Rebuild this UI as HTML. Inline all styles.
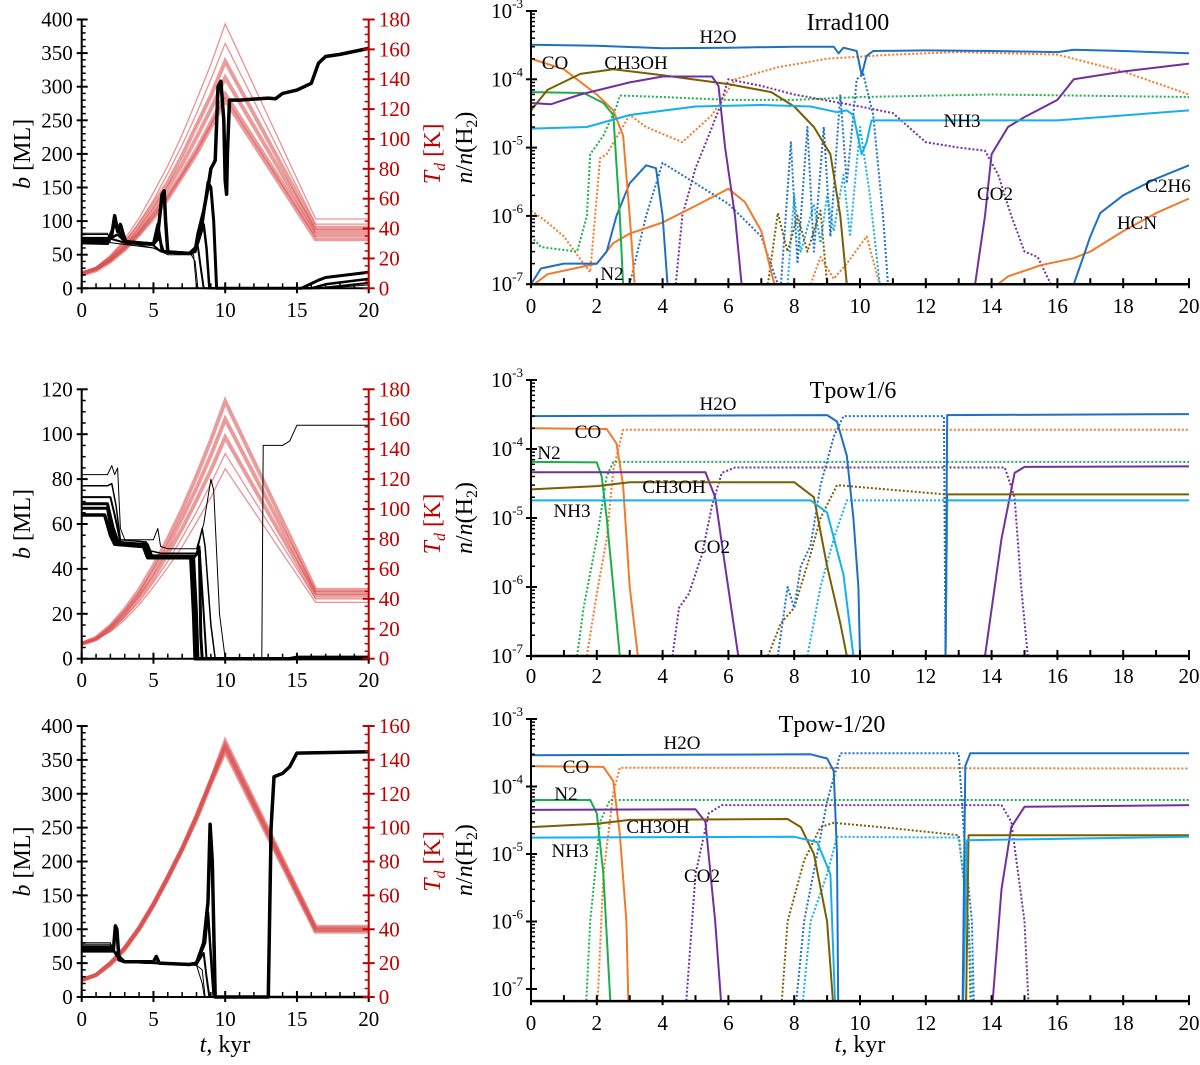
<!DOCTYPE html>
<html><head><meta charset="utf-8">
<style>
html,body{margin:0;padding:0;background:#fff;}
svg{display:block;font-family:"Liberation Serif",serif;}
</style></head>
<body>
<svg id="fig" width="1200" height="1065" viewBox="0 0 1200 1065" xmlns="http://www.w3.org/2000/svg"></svg>
<script>
// ===================== DATA =====================
const tempT = [0,1,2,3,4,5,6,7,8,9,10,16.3,20];
const tempTop = [
 [10,14,22,33,47,64,82,103,126,150,177,46.4,46.4],
 [10,14,21,31,44,59,77,96,117,140,164,43,43],
 [10,13,20,30,42,56,71,89,109,129,152,40.6,40.6],
 [10,13,19,28,39,52,67,83,101,120,141,38.4,38.4],
 [10,13,19,27,37,49,62,77,93,111,130,35.7,35.7],
 [9,12,18,26,36,47,60,75,90,108,126,32.8,32.8]];
const tempMid = [
 [10,14,22,33,46,62,80,100,122,146,172,46,46],
 [10,13,21,31,43,58,75,94,114,136,160,44,44],
 [10,13,20,29,41,54,70,87,106,126,148,42,42],
 [10,13,19,28,38,51,65,81,98,117,137,40,40],
 [10,13,18,26,36,48,61,75,91,108,127,37.6,37.6]];
const tempBot = [
 [10,13,20,29,41,55,71,88,107,128,151,41.5,41.5],
 [10,13,20,29,41,55,71,88,107,128,149,40.5,40.5],
 [10,13,20,29,40,54,70,87,106,127,147,39.5,39.5],
 [10,13,19,28,40,54,70,87,105,126,145,38.5,38.5]];
const bTop1 = [[0,68],[1.8,67],[2.1,80],[2.3,108],[2.5,85],[2.7,95],[2.9,80],[3.1,68],[4,67],[5,66],[5.3,80],[5.6,140],[5.75,145],[5.85,100],[6,54],[7.5,52],[7.9,55],[8.1,80],[8.5,115],[8.8,150],[9,178],[9.3,190],[9.5,300],[9.7,308],[9.9,250],[10,160],[10.1,140],[10.15,200],[10.3,280],[11,280],[13,283],[13.5,282],[14,290],[15,295],[16,305],[16.5,335],[17,345],[18,348],[20,357]];
const bTop2 = [[0,70],[1.8,70],[2.3,95],[3,70],[5,66],[5.3,95],[5.6,55],[7.5,52],[8,62],[8.4,95],[8.8,158],[9,150],[9.2,100],[9.4,0],[15.3,0],[16.5,12],[17,16],[20,24]];
const bTop3 = [[0,72],[1.8,72],[2.5,80],[3,70],[5,65],[5.4,75],[5.7,55],[7.5,52],[8,60],[8.5,95],[8.7,60],[8.9,0],[16,0],[17,6],[20,14]];
const bTop4 = [[0,75],[1.8,75],[3,68],[5,64],[5.5,55],[7.5,51],[8.1,62],[8.3,30],[8.5,0],[16.5,0],[20,8]];
const bTop5 = [[0,80],[1.8,80],[2.2,72],[5,60],[6,52],[7.6,51],[7.9,40],[8.1,0],[17,0],[20,5]];
const bTop6 = [[0,82],[1.8,82],[2,68],[5,60],[6,50],[7.8,50],[8,0],[20,0]];
const bMid1 = [[0,82],[1.8,82],[2.1,86],[2.3,82],[2.5,85],[2.7,58],[3,53],[5,53],[5.3,58],[5.5,50],[6,49],[8,49],[8.5,60],[9,80],[9.2,75],[9.6,20],[10,0],[12.55,0],[12.65,95],[14,95],[14.5,97],[15,104],[20,104]];
const bMid2 = [[0,77],[1.8,77],[2.1,78],[2.4,68],[2.7,53],[4.5,52],[4.8,48],[5.5,47],[8,47],[8.4,58],[8.6,50],[9,15],[9.3,0],[20,0]];
const bMid3 = [[0,72],[2,72],[2.3,64],[2.7,52],[4.6,51],[4.9,46],[8,46],[8.2,50],[8.5,20],[8.7,0],[20,0]];
const bMid4 = [[0,69],[1.8,69],[2.2,58],[2.6,51],[4.5,51],[4.8,45],[7.8,45],[8.2,48],[8.3,10],[8.4,0],[20,0]];
const bMid5 = [[0,67],[1.8,67],[2.1,56],[2.5,51],[4.5,51],[4.7,45],[7.8,45],[8,20],[8.1,0],[20,0]];
const bMid6 = [[0,64],[1.6,64],[2,55],[2.3,51],[4.3,50],[4.6,45],[7.6,45],[7.8,20],[7.9,0],[14.5,0],[15,0.6],[20,0.6]];
const bBot1 = [[0,68],[2.2,68],[2.35,105],[2.45,100],[2.6,55],[3,52],[5,52],[5.2,60],[5.4,50],[7.5,48],[8,50],[8.5,80],[8.8,140],[8.95,255],[9.1,200],[9.3,0],[13,0],[13.2,250],[13.4,325],[14,330],[14.5,340],[15,360],[20,362]];
const bBot2 = [[0,72],[2,72],[2.4,65],[3,52],[8,48],[8.6,80],[8.8,125],[9,60],[9.2,0],[20,0]];
const bBot3 = [[0,75],[2,75],[2.4,62],[3,52],[8,48],[8.5,65],[8.7,30],[8.9,0]];
const bBot4 = [[0,78],[2,78],[2.4,60],[3,51],[8,47],[8.4,40],[8.6,0]];
const bBot5 = [[0,80],[2,80],[2.4,60],[3,51],[8,47],[8.4,20],[8.55,0]];

const irrH2Os = [[0,3.2e-4],[2,3.1e-4],[4,2.85e-4],[6,2.9e-4],[8,3e-4],[9.2,3e-4],[9.35,2.4e-4],[9.5,2.9e-4],[9.9,2.6e-4],[10.05,1.15e-4],[10.2,2.2e-4],[10.4,2.6e-4],[12,2.65e-4],[14,2.6e-4],[16,2.5e-4],[16.5,2.7e-4],[18,2.6e-4],[20,2.4e-4]];
const irrBlueLow = [[0,1e-7],[0.3,1.7e-7],[1,2e-7],[2,2e-7],[2.3,3e-7],[2.6,1e-6],[3,3e-6],[3.5,5.5e-6],[3.8,5e-6],[4,1e-6],[4.15,1e-7]];
const irrC2H6 = [[16.5,1e-7],[17,5e-7],[17.3,1.1e-6],[18,2e-6],[19,3.5e-6],[20,5.5e-6]];
const irrHCN = [[14.2,1e-7],[14.5,1.3e-7],[15.5,1.9e-7],[16.5,2.4e-7],[17,3e-7],[18,6e-7],[19,1.1e-6],[20,1.8e-6]];
const irrOrangeLow = [[0.1,1e-7],[0.5,1.4e-7],[2,2e-7],[2.5,4e-7],[3,5.5e-7],[4,8e-7],[5,1.4e-6],[6,2.5e-6],[6.5,1.6e-6],[7,6e-7],[7.3,1.5e-7],[7.4,1e-7]];
const irrCOs = [[0,2e-4],[1,1.4e-4],[2,6e-5],[2.5,3.5e-5],[2.8,1.5e-5],[3,1e-6],[3.15,1e-7]];
const irrCOg = [[0,1.2e-6],[0.5,8e-7],[1,5e-7],[1.6,2e-7],[1.8,1.5e-7],[2.1,7e-6],[2.3,8e-6],[3,3e-5],[3.5,2e-5],[4.6,1.2e-5],[5.5,3e-5],[6.2,1e-4],[7.5,1.5e-4],[9,2e-4],[11,2.3e-4],[13,2.5e-4],[16,2.3e-4],[18,1.3e-4],[20,6e-5]];
const irrCOg2 = [[8.5,1e-7],[8.8,2.5e-7],[9.2,1.2e-7],[9.6,2e-7],[10.2,5e-7],[10.6,1e-7]];
const irrN2s = [[0,6.5e-5],[1.6,6.3e-5],[2.2,4.5e-5],[2.5,3e-5],[2.7,1e-6],[2.8,1e-7]];
const irrN2g = [[0,5e-7],[0.3,3.5e-7],[1.4,3e-7],[1.7,1e-6],[1.8,8e-6],[2.2,1.5e-5],[2.6,4e-5],[2.7,5.8e-5],[4,5.5e-5],[6,5e-5],[8,5e-5],[10,5.5e-5],[14,6e-5],[20,5.5e-5]];
const irrCH3OHs = [[0,3.5e-5],[0.5,7e-5],[1.5,1.2e-4],[2.5,1.4e-4],[4,1.15e-4],[6,8.5e-5],[7.3,6.5e-5],[8,4e-5],[8.6,2e-5],[9.1,8e-6],[9.4,1e-6],[9.6,1e-7]];
const irrCH3OHg = [[7.2,1e-7],[7.5,1.1e-6],[7.8,3e-7],[8.1,1e-6],[8.4,3e-7],[8.8,1.2e-6],[9,1e-7]];
const irrCO2s = [[0,4.5e-5],[0.6,4.3e-5],[1.5,6e-5],[3,9e-5],[4,1.1e-4],[5,1.1e-4],[5.5,1.1e-4],[5.7,8e-5],[5.9,1e-5],[6.2,1e-6],[6.4,1e-7]];
const irrCO2s2 = [[13.5,1e-7],[13.8,1e-6],[14,8e-6],[14.5,2e-5],[15,2.8e-5],[16,5e-5],[16.5,1e-4],[18,1.3e-4],[20,1.7e-4]];
const irrCO2g = [[4.4,1e-7],[4.6,1e-6],[5,5e-6],[5.4,1.5e-5],[5.7,3.5e-5],[6,1e-4],[7,8e-5],[8,6e-5],[10,4e-5],[11,3.2e-5],[12,1.2e-5],[13,1e-5],[13.8,9e-6],[14.2,4e-6],[14.6,1e-6],[15,3e-7],[15.4,2.5e-7],[15.8,1e-7]];
const irrNH3s = [[0,1.9e-5],[1.7,2e-5],[3,3e-5],[5,4e-5],[7,4.2e-5],[8.5,4e-5],[9.3,3.3e-5],[9.6,3.5e-5],[9.8,3e-5],[10.05,8e-6],[10.2,1.2e-5],[10.35,2.5e-5],[12,2.5e-5],[16,2.5e-5],[20,3.5e-5]];
const irrH2Og = [[3,1e-7],[3.5,1e-6],[4,6e-6],[5,3e-6],[6,1.5e-6],[7,5e-7],[7.5,1e-7],[7.6,1e-7],[7.9,1.2e-5],[8.1,2e-7],[8.4,2e-5],[8.6,3e-7],[8.9,2e-5],[9.1,5e-7],[9.4,6e-5],[9.6,3e-6],[9.9,1e-4],[10.1,1.2e-4],[10.4,3e-5],[10.7,1e-6],[10.85,1e-7]];
const irrNH3g = [[7.8,1e-7],[8,2e-6],[8.2,3e-7],[8.6,1.5e-6],[8.8,4e-7],[9,2e-6],[9.2,6e-7],[9.5,4e-6],[9.7,5e-7],[10,2e-5],[10.3,2e-6],[10.6,1e-7]];
const p6H2Os = [[0,3e-4],[9,3.1e-4],[9.3,2.5e-4],[9.6,8e-5],[9.8,1e-5],[9.95,1e-6],[10,1e-7],[12.6,1e-7],[12.65,3.1e-4],[20,3.2e-4]];
const p6H2Og = [[7.5,1e-7],[7.8,1e-6],[8,5e-7],[8.2,2e-6],[8.5,4e-6],[8.8,3e-5],[9.2,1.5e-4],[9.5,3e-4],[12.55,3e-4],[12.6,1e-7]];
const p6COs = [[0,2e-4],[2.3,1.95e-4],[2.6,1.2e-4],[2.8,3e-5],[3,1e-6],[3.25,1e-7]];
const p6COg = [[1.7,1e-7],[2,8e-7],[2.3,5e-6],[2.5,5e-5],[2.8,1.9e-4],[20,1.9e-4]];
const p6N2s = [[0,6.5e-5],[2,6.4e-5],[2.15,4e-5],[2.3,1e-5],[2.5,1e-6],[2.7,1e-7]];
const p6N2g = [[1.4,1e-7],[1.6,5e-7],[2,5e-6],[2.3,4e-5],[2.5,6.5e-5],[20,6.5e-5]];
const p6CO2s = [[0,4.6e-5],[5.3,4.6e-5],[5.6,2e-5],[5.9,2e-6],[6.3,1e-7],[13.8,1e-7],[14.3,5e-6],[14.7,4.5e-5],[15,5.5e-5],[20,5.6e-5]];
const p6CO2g = [[4.3,1e-7],[4.5,5e-7],[4.8,8e-7],[5.2,3e-6],[5.5,1.5e-5],[5.8,4.5e-5],[6.2,5.4e-5],[14.4,5.4e-5],[14.7,2e-5],[14.9,1e-6],[15.1,1e-7]];
const p6CH3OHs = [[0,2.6e-5],[2,2.9e-5],[3,3.3e-5],[4,3.3e-5],[8,3.3e-5],[8.6,2e-5],[9,2e-6],[9.4,3e-7],[9.6,1e-7],[12.6,1e-7],[12.65,2.2e-5],[20,2.2e-5]];
const p6CH3OHg = [[7.2,1e-7],[7.6,3e-7],[8,5e-7],[8.5,3e-6],[8.8,1e-5],[9.3,3e-5],[10,2.8e-5],[12.6,2.2e-5]];
const p6NH3s = [[0,1.8e-5],[8.5,1.8e-5],[9,1.2e-5],[9.5,1.5e-6],[9.8,1e-7],[12.6,1e-7],[12.65,1.8e-5],[20,1.8e-5]];
const p6NH3g = [[8.4,1e-7],[8.8,1e-6],[9.2,5e-6],[9.6,1.8e-5],[12.6,1.8e-5]];
const m20H2Os = [[0,2.9e-4],[8.5,3e-4],[9,2.6e-4],[9.2,1.7e-4],[9.3,1e-5],[9.35,1e-8],[13.1,1e-8],[13.2,2e-4],[13.35,3.1e-4],[20,3.1e-4]];
const m20H2Og = [[7.9,1e-8],[8.3,1e-6],[8.7,1e-5],[9,6e-5],[9.3,2e-4],[9.4,3.1e-4],[13,3.1e-4],[13.2,1e-5],[13.4,1e-6],[13.5,1e-8]];
const m20COs = [[0,2e-4],[2.2,1.95e-4],[2.5,1.2e-4],[2.7,2e-5],[2.9,1e-6],[3,1e-8]];
const m20COg = [[1.95,1e-8],[2.2,5e-6],[2.5,8e-5],[2.7,1.9e-4],[20,1.85e-4]];
const m20N2s = [[0,6.3e-5],[1.8,6.3e-5],[2,4e-5],[2.2,5e-6],[2.5,1e-8]];
const m20N2g = [[1.6,1e-8],[1.8,1e-6],[2.1,3e-5],[2.4,6.3e-5],[20,6.3e-5]];
const m20CO2s = [[0,4.5e-5],[5,4.6e-5],[5.3,3e-5],[5.6,1e-6],[5.9,1e-8],[13.9,1e-8],[14.3,3e-6],[14.6,2.5e-5],[15,5e-5],[20,5.3e-5]];
const m20CO2g = [[4.6,1e-8],[5,5e-6],[5.4,4e-5],[5.8,5.3e-5],[14.3,5.3e-5],[14.6,3e-5],[15,1e-6],[15.2,1e-8]];
const m20CH3OHs = [[0,2.5e-5],[2,2.8e-5],[3,3.2e-5],[7.8,3.3e-5],[8.2,2.5e-5],[8.6,1e-5],[9,1e-6],[9.3,1e-8],[13.2,1e-8],[13.3,1.9e-5],[20,1.9e-5]];
const m20CH3OHg = [[7.5,1e-8],[7.8,1e-6],[8.3,8e-6],[8.8,2.5e-5],[9.2,2.9e-5],[11,2.4e-5],[13,1.9e-5],[13.3,1e-6],[13.4,1e-8]];
const m20NH3s = [[0,1.75e-5],[8,1.8e-5],[8.7,1.5e-5],[9.1,5e-6],[9.3,1e-8],[13.1,1e-8],[13.25,1.6e-5],[20,1.8e-5]];
const m20NH3g = [[8.1,1e-8],[8.5,1e-6],[9,5e-6],[9.3,1.8e-5],[13,1.75e-5],[13.3,1e-6],[13.5,1e-8]];

// ===================== DRAWING =====================
const NS = "http://www.w3.org/2000/svg";
const svg = document.getElementById('fig');
function el(tag, attrs, parent){
  const e = document.createElementNS(NS, tag);
  for (const k in attrs) e.setAttribute(k, attrs[k]);
  (parent||svg).appendChild(e);
  return e;
}
const C = {H2O:'#1f6fc4', CO:'#f07a2a', N2:'#1aaf4b', CH3OH:'#7a5e00', CO2:'#7030a0', NH3:'#14b0ee'};
let clipId = 0;
function makeClip(x, y, w, h){
  const cp = el('clipPath', {id:'cp'+(++clipId)});
  el('rect', {x:x, y:y, width:w, height:h}, cp);
  return 'url(#cp'+clipId+')';
}

const leftPanels = [
 {x0:81.7, x1:368.7, yT:19.5, yB:288.3, bmax:400, bStep:50, bMinor:10, tmax:180, temps:tempTop,
  thickTemp:[false,false,true,true,true,true],
  bLines:[[bTop6,1],[bTop5,1],[bTop4,2],[bTop3,2.5],[bTop2,3],[bTop1,3.5]], xlabelsY:310, name:'irrad100'},
 {x0:81.7, x1:368.7, yT:389.3, yB:658.7, bmax:120, bStep:20, bMinor:5, tmax:180, temps:tempMid,
  thickTemp:[true,true,true,false,false],
  bLines:[[bMid1,1],[bMid2,1.5],[bMid3,2],[bMid4,3],[bMid5,3],[bMid6,3.5]], xlabelsY:680, name:'tpow16'},
 {x0:81.7, x1:368.7, yT:726, yB:997, bmax:400, bStep:50, bMinor:10, tmax:160, temps:tempBot,
  thickTemp:[true,true,true,true],
  bLines:[[bBot5,1],[bBot4,1],[bBot3,2],[bBot2,2.5],[bBot1,3.5]], xlabelsY:1019, name:'tpowm20'}
];

leftPanels.forEach((p, pi) => {
  const g = el('g', {});
  
  
  const X = t => p.x0 + (p.x1 - p.x0) * t / 20;
  const YB = b => p.yB - (p.yB - p.yT) * b / p.bmax;
  const YT = T => p.yB - (p.yB - p.yT) * T / p.tmax;
  const clip = makeClip(p.x0, p.yT - 2, p.x1 - p.x0, p.yB - p.yT + 2);
  const tg = el('g', {'clip-path':clip}, g);
  
  
  p.temps.forEach((arr, i) => {
    const d = arr.map((T, j) => (j ? 'L' : 'M') + X(tempT[j]).toFixed(1) + ',' + YT(T).toFixed(1)).join(' ');
    const path = el('path', {d:d, fill:'none', stroke:'#d84a4a', 'stroke-opacity':p.thickTemp[i]?0.55:0.6,
      'stroke-width':p.thickTemp[i]?4:1.3, 'stroke-linejoin':'miter'}, tg);
    
    
  });
  const bg = el('g', {'clip-path':makeClip(p.x0, p.yT - 2, p.x1 - p.x0 + 2, p.yB - p.yT + 4)}, g);
  
  
  p.bLines.forEach(([arr, w], i) => {
    const d = arr.map((q, j) => (j ? 'L' : 'M') + X(q[0]).toFixed(1) + ',' + YB(q[1]).toFixed(1)).join(' ');
    const path = el('path', {d:d, fill:'none', stroke:'#000', 'stroke-width':w, 'stroke-linejoin':'round'}, bg);
    
    
  });
  const ax = el('g', {stroke:'#000', 'stroke-width':2}, g);
  
  
  el('line', {x1:p.x0, y1:p.yT, x2:p.x0, y2:p.yB}, ax);
  for (let b = 0; b <= p.bmax + 1e-9; b += p.bMinor) {
    const y = YB(b);
    const major = Math.abs(b / p.bStep - Math.round(b / p.bStep)) < 1e-6;
    el('line', {x1:major ? p.x0 - 5 : p.x0, y1:y, x2:p.x0 + (major ? 6 : 4), y2:y, 'stroke-width':major?2:1.5}, ax);
    if (major) {
      const t = el('text', {x:p.x0 - 9, y:y + 7, 'text-anchor':'end', 'font-size':21, fill:'#000', stroke:'none'}, g);
      t.textContent = b;
      
      
    }
  }
  const xa = el('g', {stroke:'#000', 'stroke-width':2}, g);
  
  
  el('line', {x1:p.x0, y1:p.yB, x2:p.x1, y2:p.yB}, xa);
  for (let t = 0; t <= 20; t++) {
    const x = X(t);
    const major = t % 5 === 0;
    el('line', {x1:x, y1:p.yB + (major ? 5 : 0), x2:x, y2:p.yB - (major ? 6 : 5), 'stroke-width':major?2:1.5}, xa);
    if (major) {
      const tx = el('text', {x:x, y:p.xlabelsY + 7, 'text-anchor':'middle', 'font-size':21, fill:'#000', stroke:'none'}, g);
      tx.textContent = t;
      
      
    }
  }
  const ra = el('g', {stroke:'#c00000', 'stroke-width':2}, g);
  
  
  el('line', {x1:p.x1, y1:p.yT, x2:p.x1, y2:p.yB}, ra);
  for (let T = 0; T <= p.tmax; T += 5) {
    const y = YT(T);
    const major = T % 20 === 0;
    el('line', {x1:p.x1 - (major ? 6 : 4), y1:y, x2:p.x1 + (major ? 6 : 0), y2:y, 'stroke-width':major?2:1.5}, ra);
    if (major) {
      const t = el('text', {x:p.x1 + 10, y:y + 7, 'text-anchor':'start', 'font-size':21, fill:'#c00000', stroke:'none'}, g);
      t.textContent = T;
      
      
    }
  }
  const cy = (p.yT + p.yB) / 2;
  const bt = el('text', {x:0, y:0, transform:'translate(30,'+cy+') rotate(-90)', 'text-anchor':'middle', 'font-size':24, fill:'#000'}, g);
  bt.innerHTML = '<tspan font-style="italic">b</tspan> [ML]';
  
  
  const tt = el('text', {x:0, y:0, transform:'translate(440,'+cy+') rotate(-90)', 'text-anchor':'middle', 'font-size':24, fill:'#c00000'}, g);
  tt.innerHTML = '<tspan font-style="italic">T</tspan><tspan font-style="italic" font-size="16" dy="5">d</tspan><tspan dy="-5"> [K]</tspan>';
  
  
});

const rightPanels = [
 {x0:531, x1:1189, y3:11, dec:68.3, ymin:-7, title:'Irrad100', titleX:848, titleY:30, xlabelsY:306, name:'irrad100',
  series:[
   [irrCOg,'CO',true],[irrCOg2,'CO',true],[irrN2g,'N2',true],[irrCO2g,'CO2',true],[irrH2Og,'H2O',true],[irrNH3g,'NH3',true],[irrCH3OHg,'CH3OH',true],
   [irrOrangeLow,'CO',false],[irrHCN,'CO',false],[irrBlueLow,'H2O',false],[irrC2H6,'H2O',false],
   [irrCOs,'CO',false],[irrN2s,'N2',false],[irrCH3OHs,'CH3OH',false],[irrCO2s,'CO2',false],[irrCO2s2,'CO2',false],[irrNH3s,'NH3',false],[irrH2Os,'H2O',false]],
  labels:[['H2O',718,43],['CO',555,69],['CH3OH',636,69],['NH3',962,127],['CO2',995,200],['C2H6',1168,192],['HCN',1137,229],['N2',612,280]]},
 {x0:531, x1:1189, y3:380, dec:69, ymin:-7, title:'Tpow1/6', titleX:853, titleY:398, xlabelsY:676, name:'tpow16',
  series:[
   [p6COg,'CO',true],[p6N2g,'N2',true],[p6CO2g,'CO2',true],[p6CH3OHg,'CH3OH',true],[p6NH3g,'NH3',true],[p6H2Og,'H2O',true],
   [p6COs,'CO',false],[p6N2s,'N2',false],[p6CO2s,'CO2',false],[p6CH3OHs,'CH3OH',false],[p6NH3s,'NH3',false],[p6H2Os,'H2O',false]],
  labels:[['H2O',718,410],['CO',588,438],['N2',549,459],['CH3OH',674,493],['NH3',572,517],['CO2',712,553]]},
 {x0:531, x1:1189, y3:719, dec:67.5, ymin:-7.18, title:'Tpow-1/20', titleX:832, titleY:732, xlabelsY:1023, name:'tpowm20',
  series:[
   [m20COg,'CO',true],[m20N2g,'N2',true],[m20CO2g,'CO2',true],[m20CH3OHg,'CH3OH',true],[m20NH3g,'NH3',true],[m20H2Og,'H2O',true],
   [m20COs,'CO',false],[m20N2s,'N2',false],[m20CO2s,'CO2',false],[m20CH3OHs,'CH3OH',false],[m20NH3s,'NH3',false],[m20H2Os,'H2O',false]],
  labels:[['H2O',682,749],['CO',576,773],['N2',566,800],['CH3OH',658,833],['NH3',570,857],['CO2',702,882]]}
];

rightPanels.forEach(p => {
  const g = el('g', {});
  
  
  const yB = p.y3 + (-3 - p.ymin) * p.dec;
  const X = t => p.x0 + (p.x1 - p.x0) * t / 20;
  const Y = v => p.y3 + (-3 - Math.log10(v)) * p.dec;
  const clip = makeClip(p.x0, p.y3, p.x1 - p.x0 + 2, yB - p.y3);
  const sg = el('g', {'clip-path':clip}, g);
  
  
  p.series.forEach(([arr, sp, dotted]) => {
    const d = arr.map((q, j) => (j ? 'L' : 'M') + X(q[0]).toFixed(1) + ',' + Y(Math.max(q[1], 1e-9)).toFixed(1)).join(' ');
    const path = el('path', {d:d, fill:'none', stroke:C[sp], 'stroke-width':2, 'stroke-linejoin':'round',
      'stroke-dasharray':dotted ? '2 2' : 'none'}, sg);
    
    
  });
  const ax = el('g', {stroke:'#000', 'stroke-width':2}, g);
  
  
  el('line', {x1:p.x0, y1:p.y3, x2:p.x0, y2:yB}, ax);
  for (let e = -7; e <= -3; e++) {
    const y = Y(Math.pow(10, e));
    el('line', {x1:p.x0 - 5, y1:y, x2:p.x0 + 6, y2:y}, ax);
    const t = el('text', {x:p.x0 - 8, y:y + 7, 'text-anchor':'end', 'font-size':21, fill:'#000', stroke:'none'}, g);
    t.innerHTML = '10<tspan font-size="13" dy="-10">' + e + '</tspan>';
    
    
    if (e < -3) for (let m = 2; m <= 9; m++) {
      const ym = Y(m * Math.pow(10, e));
      el('line', {x1:p.x0, y1:ym, x2:p.x0 + 4, y2:ym, 'stroke-width':1.5}, ax);
    }
  }
  const xa = el('g', {stroke:'#000', 'stroke-width':2}, g);
  
  
  el('line', {x1:p.x0, y1:yB, x2:p.x1, y2:yB, 'stroke-width':2.5}, xa);
  for (let t = 0; t <= 20; t++) {
    const x = X(t);
    const major = t % 2 === 0;
    el('line', {x1:x, y1:yB + (major ? 4 : 0), x2:x, y2:yB - 6}, xa);
    if (major) {
      const tx = el('text', {x:x, y:p.xlabelsY + 7, 'text-anchor':'middle', 'font-size':21, fill:'#000', stroke:'none'}, g);
      tx.textContent = t;
      
      
    }
  }
  const ti = el('text', {x:p.titleX, y:p.titleY, 'text-anchor':'middle', 'font-size':24, fill:'#000'}, g);
  ti.textContent = p.title;
  
  
  p.labels.forEach(([txt, x, y]) => {
    const l = el('text', {x:x, y:y, 'text-anchor':'middle', 'font-size':19, fill:'#000'}, g);
    l.textContent = txt;
    
    
  });
  const cy = (p.y3 + yB) / 2;
  const yt = el('text', {x:0, y:0, transform:'translate(472,'+cy+') rotate(-90)', 'text-anchor':'middle', 'font-size':24, fill:'#000'}, g);
  yt.innerHTML = '<tspan font-style="italic">n</tspan>/<tspan font-style="italic">n</tspan>(H<tspan font-size="16" dy="5">2</tspan><tspan dy="-5">)</tspan>';
  
  
});

[[225, 1052], [860, 1052]].forEach(([x, y], i) => {
  const t = el('text', {x:x, y:y, 'text-anchor':'middle', 'font-size':24, fill:'#000'});
  t.innerHTML = '<tspan font-style="italic">t</tspan>, kyr';
  
  
});
</script>
</body></html>
